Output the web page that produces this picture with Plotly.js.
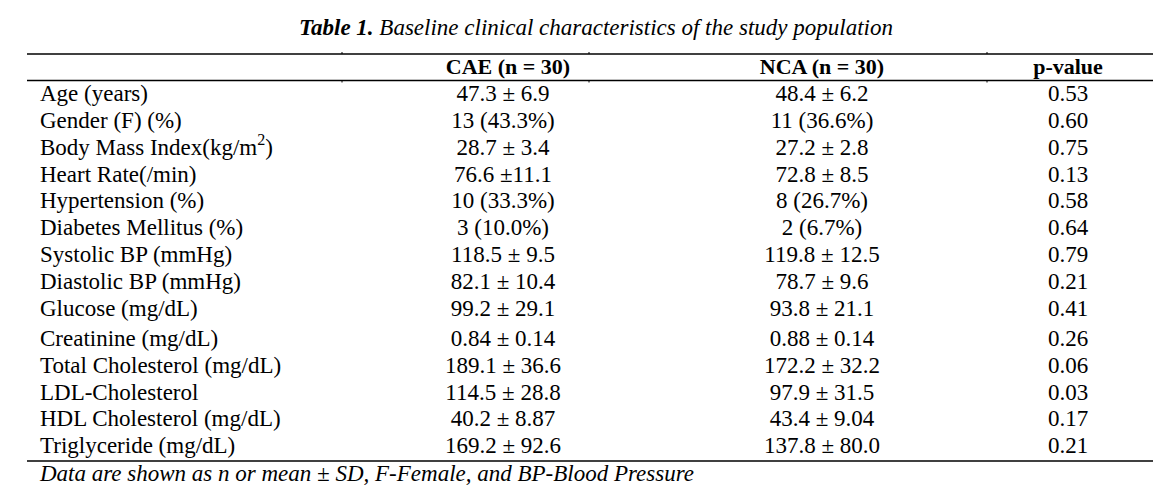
<!DOCTYPE html>
<html>
<head>
<meta charset="utf-8">
<script src="https://cdn.plot.ly/plotly-3.0.1.min.js"></script>
<style>html,body{margin:0;padding:0;background:#fff;}#chart{width:1176px;height:489px;}</style>
</head>
<body>
<div id="chart"></div>
<script>
// ---- data ----
const titleBold = 'Table 1.';
const titleRest = ' Baseline clinical characteristics of the study population';
const columnHeaders = ['CAE (n = 30)', 'NCA (n = 30)', 'p-value'];
const rowLabels = [
  'Age (years)',
  'Gender (F) (%)',
  'Body Mass Index(kg/m<sup>2</sup>)',
  'Heart Rate(/min)',
  'Hypertension (%)',
  'Diabetes Mellitus (%)',
  'Systolic BP (mmHg)',
  'Diastolic BP (mmHg)',
  'Glucose (mg/dL)',
  'Creatinine (mg/dL)',
  'Total Cholesterol (mg/dL)',
  'LDL-Cholesterol',
  'HDL Cholesterol (mg/dL)',
  'Triglyceride (mg/dL)'
];
const caeValues = [
  '47.3 ± 6.9', '13 (43.3%)', '28.7 ± 3.4', '76.6 ±11.1', '10 (33.3%)', '3 (10.0%)',
  '118.5 ± 9.5', '82.1 ± 10.4', '99.2 ± 29.1', '0.84 ± 0.14', '189.1 ± 36.6',
  '114.5 ± 28.8', '40.2 ± 8.87', '169.2 ± 92.6'
];
const ncaValues = [
  '48.4 ± 6.2', '11 (36.6%)', '27.2 ± 2.8', '72.8 ± 8.5', '8 (26.7%)', '2 (6.7%)',
  '119.8 ± 12.5', '78.7 ± 9.6', '93.8 ± 21.1', '0.88 ± 0.14', '172.2 ± 32.2',
  '97.9 ± 31.5', '43.4 ± 9.04', '137.8 ± 80.0'
];
const pValues = [
  '0.53', '0.60', '0.75', '0.13', '0.58', '0.64', '0.79', '0.21', '0.41', '0.26',
  '0.06', '0.03', '0.17', '0.21'
];
const footnote = 'Data are shown as n or mean ± SD, F-Female, and BP-Blood Pressure';

// ---- layout geometry (pixel-like axes) ----
const W = 1176, H = 489;
const FONT = 'Liberation Serif, Times New Roman, serif';
const FS = 23;
const ROW0 = 95.5, ROWSTEP = 26.8, EXTRA_GAP = 3.5, GAP_AFTER = 8;
const rowY = rowLabels.map((_, i) => ROW0 + i * ROWSTEP + (i > GAP_AFTER ? EXTRA_GAP : 0));
const HEADER_Y = 68.5;
const LEFT_X = 40;
const colX = [503, 822, 1068];
const RULE_X0 = 27, RULE_X1 = 1153;
const RULE_TOP = 54, RULE_HEAD = 80.5, RULE_BOTTOM = 461;
const FOOT_Y = 475;
const colTicks = [342, 589, 987];

const txt = (x, y, text, pos, font) => ({
  type: 'scatter', mode: 'text', x: x, y: y, text: text, textposition: pos,
  textfont: font, hoverinfo: 'skip', showlegend: false, cliponaxis: false
});
const baseFont = {family: FONT, size: FS, color: '#000'};

const traces = [
  txt(rowLabels.map(() => LEFT_X), rowY, rowLabels, 'middle right', baseFont),
  txt(rowLabels.map(() => colX[0]), rowY, caeValues, 'middle center', baseFont),
  txt(rowLabels.map(() => colX[1]), rowY, ncaValues, 'middle center', baseFont),
  txt(rowLabels.map(() => colX[2]), rowY, pValues, 'middle center', baseFont),
  txt([508, 822, 1068], [HEADER_Y, HEADER_Y, HEADER_Y], columnHeaders.map(h => '<b>' + h + '</b>'), 'middle center', {family: FONT, size: 22, color: '#000'}),
  txt([LEFT_X], [FOOT_Y], ['<i>' + footnote + '</i>'], 'middle right', {family: FONT, size: 23, color: '#000'})
];

const line = (x0, y0, x1, y1, w) => ({type: 'line', xref: 'x', yref: 'y', x0, y0, x1, y1, line: {color: '#000', width: w}});
const shapes = [
  line(RULE_X0, RULE_TOP, RULE_X1, RULE_TOP, 1.3),
  line(RULE_X0, RULE_HEAD, RULE_X1, RULE_HEAD, 1.3),
  line(RULE_X0, RULE_BOTTOM, RULE_X1, RULE_BOTTOM, 1.3)
];
colTicks.forEach(x => {
  shapes.push(line(x, RULE_TOP - 2, x, RULE_TOP, 1));
  shapes.push(line(x, RULE_HEAD, x, RULE_HEAD + 2, 1));
});

const layout = {
  width: W, height: H,
  margin: {l: 0, r: 0, t: 0, b: 0, pad: 0},
  paper_bgcolor: '#fff', plot_bgcolor: '#fff',
  title: {
    text: '<b><i>' + titleBold + '</i></b><i>' + titleRest + '</i>',
    font: {family: FONT, size: 23, color: '#000'},
    x: 596 / W, xref: 'paper', xanchor: 'center',
    y: 1 - 27 / H, yref: 'paper', yanchor: 'middle'
  },
  xaxis: {range: [0, W], visible: false, fixedrange: true},
  yaxis: {range: [H, 0], visible: false, fixedrange: true},
  shapes: shapes,
  showlegend: false
};

Plotly.newPlot('chart', traces, layout, {displayModeBar: false, staticPlot: true});
</script>
</body>
</html>
